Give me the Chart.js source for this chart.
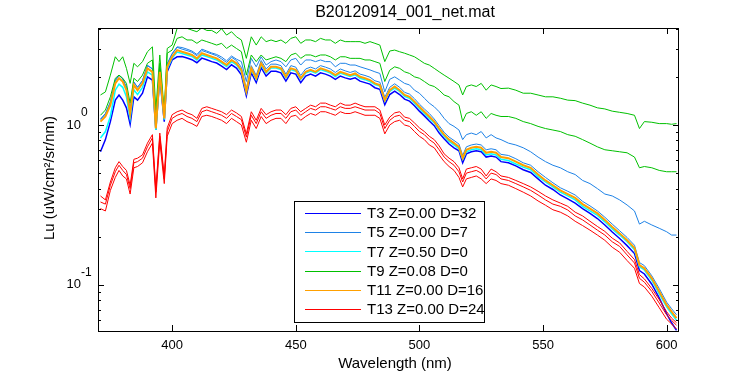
<!DOCTYPE html>
<html>
<head>
<meta charset="utf-8">
<title>B20120914_001_net.mat</title>
<script src="https://cdn.jsdelivr.net/npm/chart.js"></script>
<style>
    body { margin: 0; background: #fff; }
    #wrap { width: 750px; height: 375px; }
</style>
</head>
<body>
<div id="wrap"><canvas id="myChart" width="750" height="375"></canvas></div>
<script>
// wavelengths (nm)
var wl = [371,373,375,377,378.5,380,381.5,383,384.5,386,388,390,392,393.4,395,396.8,398,
    400,402,404,406,408,410,412,414,416,418,420,422,424,426,428,
    430,432,434,436,438,440,442,444,446,448,450,452,454,456,458,460,462,464,466,468,470,472,474,476,478,480,482,484,486,488,
    490,492,494,496,498,500,502,504,506,508,510,512,514,516,517.5,519,521,523,525,527,529,531,533,536,539,542,545,
    548,551,554,557,560,563,566,569,572,575,578,581,584,587,589,591,594,597,600,602,604];

// T9 Z=0.08 D=0 (green) - upper cast
var t9a = [1.54,1.61,2.05,2.67,2.49,2.67,2.26,1.82,2.43,2.31,2.49,2.87,3.08,1.24,2.74,1.21,3.01,
    3.16,4.02,4.15,4.02,3.92,3.83,4.05,3.90,3.90,3.74,4.00,3.65,3.83,3.56,3.40,
    2.61,3.56,3.16,3.56,3.32,3.40,3.32,3.40,3.24,3.48,3.56,3.24,3.40,3.40,3.32,3.48,3.40,3.40,3.24,3.40,3.32,3.32,3.32,3.32,3.24,3.32,3.24,3.16,2.49,2.90,
    2.94,2.87,2.81,2.74,2.67,2.55,2.43,2.37,2.26,2.15,2.05,1.96,1.87,1.78,1.54,1.74,1.78,1.74,1.82,1.65,1.78,1.74,1.69,1.70,1.65,1.58,1.58,
    1.54,1.50,1.50,1.47,1.43,1.42,1.37,1.33,1.28,1.26,1.22,1.20,1.18,1.15,0.95,1.05,1.04,1.02,1.02,1.01,1.02];
// T9 second cast
var t9b = [1.15,1.24,1.50,1.96,2.05,1.96,1.82,1.37,1.96,1.87,2.05,2.43,2.55,1.00,2.43,1.15,2.81,
    2.94,3.48,3.56,3.40,3.40,3.24,3.40,3.32,3.24,3.16,3.24,3.01,3.16,3.01,2.87,
    2.05,2.74,2.49,2.74,2.55,2.61,2.67,2.61,2.49,2.74,2.81,2.61,2.74,2.74,2.67,2.74,2.74,2.67,2.55,2.67,2.67,2.61,2.61,2.61,2.55,2.55,2.49,2.43,1.87,2.20,
    2.31,2.26,2.15,2.10,2.00,1.96,1.87,1.78,1.74,1.65,1.54,1.50,1.40,1.33,1.05,1.18,1.21,1.15,1.21,1.10,1.18,1.15,1.13,1.13,1.10,1.05,1.02,
    0.98,0.95,0.93,0.91,0.87,0.85,0.81,0.77,0.73,0.70,0.69,0.68,0.67,0.63,0.54,0.55,0.54,0.52,0.51,0.51,0.51];
// T5 Z=0.00 D=7 (light blue) - the cast that stays high
var t5 = [1.08,1.17,1.40,1.90,2.05,1.95,1.72,1.24,1.86,1.72,1.90,2.36,2.25,0.98,2.25,1.13,2.42,
    2.80,3.08,3.05,2.98,2.90,2.76,2.98,2.90,2.82,2.76,2.66,2.52,2.70,2.58,2.49,
    1.87,2.61,2.31,2.67,2.37,2.49,2.55,2.49,2.31,2.55,2.61,2.37,2.55,2.55,2.49,2.55,2.49,2.49,2.31,2.43,2.43,2.37,2.37,2.31,2.26,2.21,2.15,2.10,1.61,1.93,
    2.00,1.91,1.82,1.78,1.65,1.58,1.47,1.37,1.30,1.21,1.10,1.02,0.98,0.93,0.81,0.87,0.89,0.87,0.91,0.83,0.87,0.83,0.81,0.77,0.75,0.72,0.68,
    0.63,0.59,0.56,0.54,0.51,0.49,0.45,0.43,0.40,0.37,0.36,0.34,0.316,0.29,0.24,0.25,0.237,0.226,0.215,0.205,0.205];
// T5 cast inside the main bundle
var t5b = [1.09,1.18,1.38,1.89,2.04,1.94,1.72,1.23,1.85,1.72,1.89,2.35,2.24,0.99,2.24,1.14,2.40,
    2.78,3.06,2.98,2.92,2.85,2.71,2.92,2.85,2.78,2.71,2.59,2.46,2.65,2.53,2.29,
    1.68,2.35,2.04,2.53,2.24,2.40,2.40,2.35,2.08,2.35,2.30,2.04,2.24,2.30,2.24,2.35,2.30,2.24,2.13,2.24,2.18,2.13,2.18,2.08,2.04,1.99,1.89,1.85,1.49,1.72,
    1.81,1.72,1.60,1.56,1.46,1.35,1.26,1.18,1.09,0.99,0.90,0.84,0.80,0.76,0.645,0.73,0.75,0.76,0.75,0.70,0.71,0.70,0.655,0.645,0.615,0.58,0.56,
    0.51,0.47,0.435,0.405,0.385,0.365,0.333,0.312,0.29,0.265,0.24,0.218,0.198,0.177,0.138,0.132,0.114,0.095,0.078,0.071,0.065];
// T11 Z=0.00 D=16 (orange)
var t11 = [1.05,1.13,1.33,1.82,1.96,1.87,1.65,1.18,1.78,1.65,1.82,2.26,2.15,0.95,2.15,1.10,2.31,
    2.67,2.94,2.87,2.81,2.74,2.61,2.81,2.74,2.67,2.61,2.49,2.37,2.55,2.43,2.20,
    1.62,2.26,1.96,2.43,2.15,2.31,2.31,2.26,2.00,2.26,2.21,1.96,2.15,2.21,2.15,2.26,2.21,2.15,2.05,2.15,2.10,2.05,2.10,2.00,1.96,1.91,1.82,1.78,1.43,1.65,
    1.74,1.65,1.54,1.50,1.40,1.30,1.21,1.13,1.05,0.95,0.87,0.81,0.77,0.73,0.62,0.70,0.72,0.73,0.72,0.67,0.68,0.67,0.63,0.62,0.59,0.56,0.54,
    0.49,0.45,0.42,0.39,0.37,0.35,0.32,0.30,0.28,0.255,0.23,0.21,0.19,0.17,0.133,0.127,0.11,0.091,0.075,0.068,0.062];
// T7 Z=0.50 D=0 (cyan)
var t7 = [0.83,0.91,1.13,1.65,1.80,1.72,1.50,1.10,1.66,1.55,1.72,2.15,2.05,0.93,2.06,1.08,2.24,
    2.62,2.86,2.80,2.74,2.68,2.55,2.74,2.68,2.61,2.55,2.44,2.32,2.49,2.38,2.16,
    1.60,2.22,1.93,2.38,2.11,2.27,2.27,2.22,1.97,2.22,2.17,1.93,2.11,2.17,2.11,2.22,2.17,2.11,2.01,2.11,2.06,2.01,2.06,1.96,1.92,1.87,1.79,1.75,1.41,1.62,
    1.70,1.62,1.51,1.47,1.37,1.27,1.18,1.10,1.03,0.93,0.85,0.79,0.75,0.71,0.61,0.68,0.70,0.71,0.70,0.65,0.66,0.65,0.61,0.60,0.57,0.545,0.525,
    0.475,0.44,0.41,0.38,0.36,0.34,0.31,0.29,0.272,0.248,0.224,0.205,0.186,0.166,0.13,0.124,0.107,0.088,0.073,0.066,0.060];
// T3 Z=0.00 D=32 (blue)
var t3 = [0.68,0.81,1.05,1.43,1.54,1.43,1.28,1.01,1.50,1.43,1.58,2.00,1.91,0.93,1.97,1.05,2.15,
    2.55,2.67,2.68,2.62,2.56,2.45,2.62,2.56,2.49,2.44,2.33,2.22,2.38,2.27,2.06,
    1.52,2.12,1.84,2.28,2.02,2.17,2.17,2.12,1.88,2.12,2.08,1.84,2.02,2.08,2.02,2.12,2.08,2.02,1.93,2.02,1.97,1.93,1.97,1.88,1.84,1.80,1.71,1.67,1.34,1.55,
    1.63,1.55,1.45,1.41,1.32,1.22,1.14,1.06,0.99,0.89,0.82,0.76,0.72,0.69,0.58,0.66,0.68,0.69,0.68,0.63,0.64,0.63,0.59,0.58,0.555,0.525,0.505,
    0.46,0.42,0.395,0.365,0.345,0.325,0.30,0.28,0.26,0.237,0.214,0.195,0.176,0.157,0.123,0.117,0.101,0.083,0.066,0.058,0.052];
// T13 Z=0.00 D=24 (red), three casts
var t13a = [0.36,0.34,0.44,0.54,0.59,0.55,0.52,0.42,0.61,0.62,0.65,0.77,0.87,0.40,0.89,0.48,0.96,
    1.16,1.21,1.24,1.19,1.16,1.10,1.27,1.30,1.27,1.24,1.21,1.16,1.24,1.19,1.13,
    0.88,1.21,1.07,1.27,1.16,1.21,1.24,1.24,1.16,1.27,1.30,1.21,1.27,1.33,1.30,1.37,1.37,1.33,1.30,1.37,1.33,1.33,1.37,1.33,1.30,1.30,1.30,1.24,1.00,1.12,
    1.19,1.21,1.12,1.10,1.03,0.96,0.91,0.85,0.81,0.74,0.66,0.62,0.59,0.54,0.46,0.53,0.54,0.55,0.53,0.48,0.53,0.51,0.48,0.47,0.45,0.43,0.41,
    0.385,0.36,0.34,0.325,0.31,0.285,0.27,0.25,0.232,0.216,0.196,0.183,0.162,0.144,0.116,0.109,0.095,0.081,0.068,0.062,0.058];
var t13b = [0.33,0.32,0.42,0.51,0.56,0.52,0.49,0.40,0.58,0.59,0.62,0.73,0.83,0.38,0.85,0.46,0.91,
    1.10,1.15,1.18,1.13,1.10,1.05,1.21,1.24,1.21,1.18,1.15,1.10,1.18,1.13,1.08,
    0.84,1.15,1.02,1.21,1.10,1.15,1.18,1.18,1.10,1.21,1.24,1.15,1.21,1.27,1.24,1.30,1.30,1.27,1.24,1.30,1.27,1.27,1.30,1.27,1.24,1.24,1.24,1.18,0.95,1.07,
    1.13,1.15,1.07,1.05,0.98,0.91,0.87,0.81,0.77,0.70,0.63,0.59,0.56,0.51,0.44,0.50,0.51,0.52,0.50,0.46,0.50,0.49,0.46,0.45,0.43,0.41,0.39,
    0.365,0.34,0.32,0.31,0.294,0.27,0.255,0.237,0.22,0.205,0.186,0.174,0.154,0.137,0.11,0.104,0.091,0.077,0.065,0.060,0.056];
var t13c = [0.30,0.29,0.39,0.47,0.52,0.48,0.46,0.37,0.54,0.55,0.58,0.68,0.77,0.35,0.79,0.43,0.85,
    1.02,1.07,1.10,1.05,1.02,0.98,1.13,1.15,1.13,1.10,1.07,1.02,1.10,1.05,1.00,
    0.78,1.07,0.95,1.13,1.02,1.07,1.10,1.10,1.02,1.13,1.15,1.07,1.13,1.18,1.15,1.21,1.21,1.18,1.15,1.21,1.18,1.18,1.21,1.18,1.15,1.15,1.15,1.10,0.88,1.00,
    1.05,1.07,1.00,0.98,0.91,0.85,0.81,0.75,0.72,0.65,0.59,0.55,0.52,0.47,0.41,0.46,0.47,0.48,0.46,0.43,0.46,0.45,0.43,0.42,0.40,0.38,0.36,
    0.335,0.315,0.295,0.285,0.27,0.25,0.235,0.22,0.205,0.19,0.172,0.16,0.142,0.127,0.102,0.097,0.085,0.072,0.061,0.057,0.053];

var xTicks = [400, 450, 500, 550, 600];
var yMajor = [0.1, 1];
var legendNames = ['T3 Z=0.00 D=32', 'T5 Z=0.00 D=7', 'T7 Z=0.50 D=0', 'T9 Z=0.08 D=0', 'T11 Z=0.00 D=16', 'T13 Z=0.00 D=24'];
var legendColors = ['#0000ff', '#1e82e6', '#00ffff', '#00c000', '#ffa000', '#ff0000'];

function pts(vals) {
    var out = [];
    for (var i = 0; i < wl.length; i++) {
        out.push({x: wl[i], y: vals[i]});
    }
    return out;
}

function line(vals, color, w) {
    return {
        data: pts(vals),
        borderColor: color,
        borderWidth: w || 1,
        pointRadius: 0,
        tension: 0,
        fill: false
    };
}

// first dataset is painted last, so red (T13) goes first to end up on top
var datasets = [
    line(t13a, '#ff0000'), line(t13b, '#ff0000'), line(t13c, '#ff0000'),
    line(t11, '#ffa000', 2),
    line(t9a, '#00c000'), line(t9b, '#00c000'),
    line(t7, '#00ffff', 1.5),
    line(t5, '#1e82e6'), line(t5b, '#1e82e6'),
    line(t3, '#0000ff', 1.5)
];

var FONT = '"Liberation Sans", Arial, Helvetica, sans-serif';

var matlabAxes = {
    id: 'matlabAxes',
    afterDraw: function (chart) {
        var ctx = chart.ctx;
        var a = chart.chartArea;
        var xs = chart.scales.x;
        var ys = chart.scales.y;
        ctx.save();
        ctx.strokeStyle = '#000';
        ctx.lineWidth = 1;
        ctx.strokeRect(a.left + 0.5, a.top + 0.5, a.right - a.left - 1, a.bottom - a.top);

        // x ticks, inward on bottom and top
        ctx.beginPath();
        xTicks.forEach(function (v) {
            var px = Math.round(xs.getPixelForValue(v)) + 0.5;
            ctx.moveTo(px, a.bottom); ctx.lineTo(px, a.bottom - 6);
            ctx.moveTo(px, a.top); ctx.lineTo(px, a.top + 6);
        });
        // y ticks, log minor ones shorter
        for (var d = 0.01; d <= 10; d *= 10) {
            for (var m = 1; m <= 9; m++) {
                var v = d * m;
                if (v < ys.min || v > ys.max) continue;
                var py = Math.round(ys.getPixelForValue(v)) + 0.5;
                var len = (m === 1) ? 6 : 3;
                ctx.moveTo(a.left, py); ctx.lineTo(a.left + len, py);
                ctx.moveTo(a.right, py); ctx.lineTo(a.right - len, py);
            }
        }
        ctx.stroke();

        ctx.fillStyle = '#000';
        // x tick labels
        ctx.font = '13px ' + FONT;
        ctx.textAlign = 'center';
        ctx.textBaseline = 'middle';
        xTicks.forEach(function (v) {
            ctx.fillText(String(v), xs.getPixelForValue(v), 345);
        });
        // y tick labels 10^n
        yMajor.forEach(function (v) {
            var py = ys.getPixelForValue(v);
            ctx.font = '13px ' + FONT;
            ctx.textAlign = 'right';
            ctx.fillText('10', 81, py);
            ctx.font = '12px ' + FONT;
            ctx.textAlign = 'left';
            ctx.fillText(String(Math.round(Math.log10(v))), 81, py - 12);
        });

        // title + axis labels
        ctx.font = '16px ' + FONT;
        ctx.textAlign = 'center';
        ctx.fillText('B20120914_001_net.mat', 405, 13);
        ctx.font = '15px ' + FONT;
        ctx.fillText('Wavelength (nm)', 395, 364);
        ctx.save();
        ctx.translate(50, 178);
        ctx.rotate(-Math.PI / 2);
        ctx.fillText('Lu (uW/cm\u00b2/sr/nm)', 0, 0);
        ctx.restore();

        // legend box
        var lx = 294, ly = 201, lw = 190, lh = 121;
        ctx.fillStyle = '#fff';
        ctx.fillRect(lx, ly, lw, lh);
        ctx.strokeStyle = '#000';
        ctx.strokeRect(lx + 0.5, ly + 0.5, lw, lh);
        ctx.font = '15px ' + FONT;
        ctx.textAlign = 'left';
        for (var i = 0; i < legendNames.length; i++) {
            var yy = 213 + i * 19.2;
            ctx.strokeStyle = legendColors[i];
            ctx.beginPath();
            ctx.moveTo(305, Math.round(yy) + 0.5);
            ctx.lineTo(361, Math.round(yy) + 0.5);
            ctx.stroke();
            ctx.fillStyle = '#000';
            ctx.fillText(legendNames[i], 367, yy + 1);
        }
        ctx.restore();
    }
};

var ctx = document.getElementById('myChart').getContext('2d');
var myChart = new Chart(ctx, {
    type: 'line',
    data: { datasets: datasets },
    options: {
        responsive: false,
        animation: false,
        layout: { padding: { left: 0, right: 71, top: 28, bottom: 0 } },
        plugins: {
            legend: { display: false },
            tooltip: { enabled: false },
            title: { display: false }
        },
        scales: {
            x: {
                type: 'linear',
                min: 370,
                max: 605,
                grid: { display: false },
                border: { display: false },
                ticks: { display: false },
                afterFit: function (s) { s.height = 44; }
            },
            y: {
                type: 'logarithmic',
                min: 0.0515,
                max: 4.04,
                grid: { display: false },
                border: { display: false },
                ticks: { display: false },
                afterFit: function (s) { s.width = 98; }
            }
        }
    },
    plugins: [matlabAxes]
});
</script>
</body>
</html>
